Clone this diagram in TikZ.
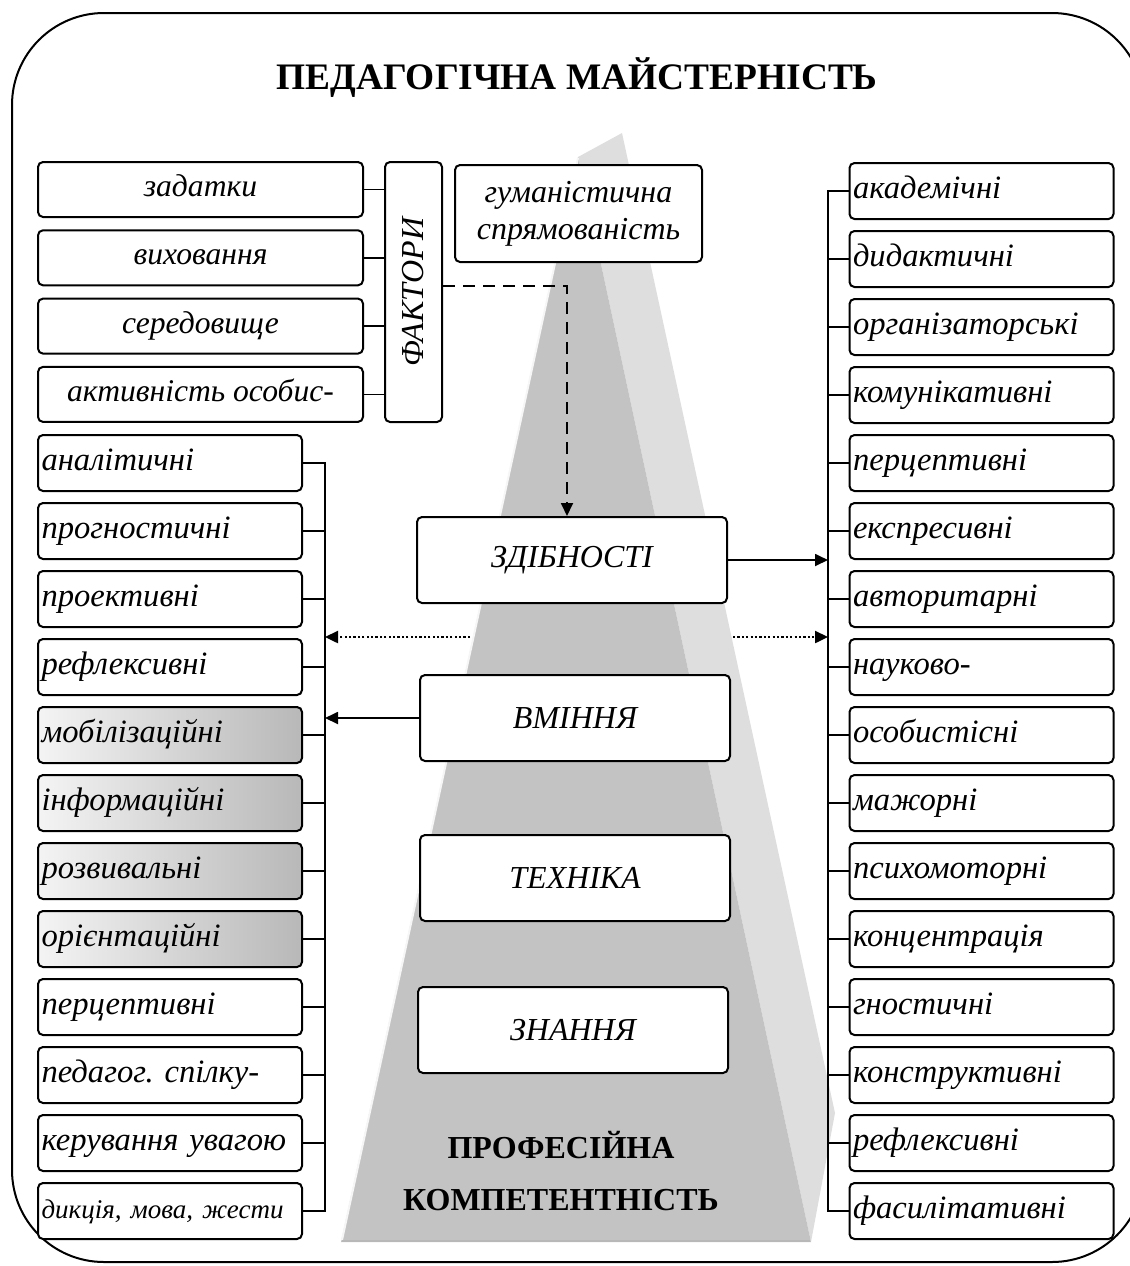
\documentclass[tikz,border=0pt]{standalone}
\usepackage{fontspec}
\setmainfont{Liberation Serif}
\usetikzlibrary{arrows.meta}
\definecolor{pdark}{HTML}{C3C3C3}
\definecolor{plight}{HTML}{DEDEDE}
\definecolor{shL}{HTML}{F4F4F4}
\definecolor{shR}{HTML}{B8B8B8}
\begin{document}
\frenchspacing
\begin{tikzpicture}[x=0.5pt,y=-0.5pt,
  box/.style={draw, line width=1pt, rounded corners=2.5pt, fill=white, inner sep=0pt},
  fitem/.style={box, minimum width=162.5pt, minimum height=27.5pt, text height=10.5pt, text depth=3.5pt, font=\fontsize{15.8}{18}\selectfont\itshape},
  litem/.style={box, text width=128.5pt, minimum height=28pt, align=left, inner xsep=1.75pt, text height=10.5pt, text depth=3.5pt, font=\fontsize{16.3}{18}\selectfont\itshape},
  shitem/.style={litem, left color=shL, right color=shR},
  fakbox/.style={box, rotate=90, minimum width=130pt, minimum height=28.5pt, font=\fontsize{16}{19}\selectfont\itshape},
  pbox/.style={box, minimum width=155pt, minimum height=43pt, font=\fontsize{16}{19}\selectfont\itshape},
  link/.style={line width=0.9pt},
  tip/.style={-{Triangle[length=6.5pt,width=6pt]}},
  dashline/.style={line width=0.9pt, dash pattern=on 6pt off 4pt},
  dotline/.style={line width=1.2pt, dash pattern=on 1.1pt off 1.1pt},
  ttl/.style={font=\fontsize{18.7}{22}\selectfont\bfseries},
  pttl/.style={font=\fontsize{16}{26}\selectfont\bfseries, align=center}
]
\path[use as bounding box] (0,0) rectangle (1130,1266);
\clip (0,0) rectangle (1130,1266);
% outer frame
\draw[line width=1pt, rounded corners=46pt] (12,13) rectangle (1144,1262);
% pyramid
\fill[plight] (578,157) -- (622,133) -- (835,1113) -- (811,1242) -- cycle;
\fill[pdark] (578,157) -- (341,1242) -- (811,1242) -- cycle;
\draw[line width=1pt, color=white!85!pdark] (578,158) -- (342,1240);
\draw[line width=1.2pt, color=shR] (342,1241) -- (810,1241);
% title
\node[ttl] (t) at (577,78) {ПЕДАГОГІЧНА МАЙСТЕРНІСТЬ};
% factors
\node[fitem] (f1) at (200.5,189.5) {задатки};
\node[fitem] (f2) at (200.5,257.8) {виховання};
\node[fitem] (f3) at (200.5,326.1) {середовище};
\node[fitem] (f4) at (200.5,394.4) {активність особис-};
\node[fakbox] (fak) at (413.5,292) {ФАКТОРИ};
\foreach \i in {1,...,4} \draw[link] (f\i.east) -- (f\i.east -| fak.north);
% humanistic
\node[box, minimum width=123.5pt, minimum height=48.5pt, align=center,
      font=\fontsize{16}{18.5}\selectfont\itshape] (hum) at (578.5,213.5) {гуманістична\\спрямованість};
% pyramid boxes
\node[pbox] (zd) at (572,560) {ЗДІБНОСТІ};
\node[pbox] (vm) at (575,718) {ВМІННЯ};
\node[pbox] (te) at (575,878) {ТЕХНІКА};
\node[pbox] (zn) at (573,1030) {ЗНАННЯ};
\node[pttl] (pk) at (561,1171) {ПРОФЕСІЙНА\\КОМПЕТЕНТНІСТЬ};
% left list
\node[litem] (l1) at (170,463) {аналітичні};
\node[litem] (l2) at (170,531) {прогностичні};
\node[litem] (l3) at (170,599) {проективні};
\node[litem] (l4) at (170,667) {рефлексивні};
\node[shitem] (l5) at (170,735) {мобілізаційні};
\node[shitem] (l6) at (170,803) {інформаційні};
\node[shitem] (l7) at (170,871) {розвивальні};
\node[shitem] (l8) at (170,939) {орієнтаційні};
\node[litem] (l9) at (170,1007) {перцептивні};
\node[litem] (l10) at (170,1075) {педагог. спілку-};
\node[litem] (l11) at (170,1143) {керування увагою};
\node[litem, font=\fontsize{13.5}{16}\selectfont\itshape] (l12) at (170,1211) {дикція, мова, жести};
\coordinate (lbar) at (325,0);
\draw[link] (l1.east) -- (l1.east -| lbar) -- (l12.east -| lbar) -- (l12.east);
\foreach \i in {2,...,11} \draw[link] (l\i.east) -- (l\i.east -| lbar);
% right list
\foreach \t [count=\i] in {академічні,дидактичні,організаторські,комунікативні,перцептивні,експресивні,авторитарні,науково-,особистісні,мажорні,психомоторні,концентрація,гностичні,конструктивні,рефлексивні,фасилітативні}
  \node[litem] (r\i) at (981.5,{191+68*(\i-1)}) {\t};
\coordinate (rbar) at (828,0);
\draw[link] (r1.west) -- (r1.west -| rbar) -- (r16.west -| rbar) -- (r16.west);
\foreach \i in {2,...,15} \draw[link] (r\i.west) -- (r\i.west -| rbar);
% arrows
\draw[dashline, tip] ([yshift=3pt]fak.south) -| ([xshift=-2.5pt]zd.north);
\draw[link, tip] (zd.east) -- (zd.east -| rbar);
\draw[link, tip] (vm.west) -- (vm.west -| lbar);
\coordinate (dl) at (470,637);
\coordinate (dr) at (733,637);
\draw[dotline, tip] (dl) -- (dl -| lbar);
\draw[dotline, tip] (dr) -- (dr -| rbar);
\end{tikzpicture}
\end{document}
